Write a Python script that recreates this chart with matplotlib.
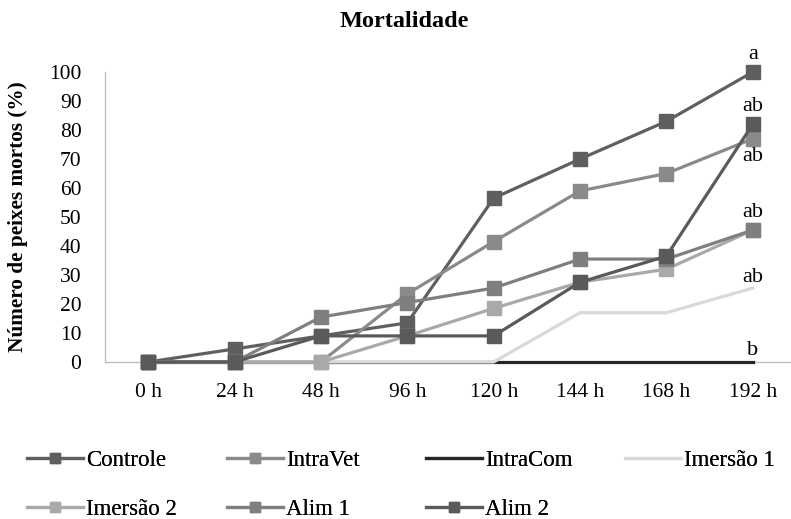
import matplotlib.pyplot as plt

plt.rcParams['font.family'] = ['Liberation Serif', 'DejaVu Serif']

horas = ['0 h', '24 h', '48 h', '96 h', '120 h', '144 h', '168 h', '192 h']

controle = [0, 4.5, 9, 13.5, 56.5, 70, 83, 100]
intravet = [0, 0, 0, 23.5, 41.5, 59, 65, 77]
intracom = [0, 0, 0, 0, 0, 0, 0, 0]
imersao1 = [0, 0, 0, 0, 0, 17, 17, 25.5]
imersao2 = [0, 0, 0, 9, 18.5, 27.5, 32, 45.5]
alim1 = [0, 0, 15.5, 20.5, 25.5, 35.5, 35.5, 45.5]
alim2 = [0, 0, 9, 9, 9, 27.5, 36.5, 82]

letras = ['a', 'ab', 'ab', 'ab', 'ab', 'b']

series = [
    ('Controle', controle, '#5f5f5f', 's'),
    ('IntraVet', intravet, '#8a8a8a', 's'),
    ('IntraCom', intracom, '#262626', None),
    ('Imersão 1', imersao1, '#d9d9d9', None),
    ('Imersão 2', imersao2, '#a9a9a9', 's'),
    ('Alim 1', alim1, '#7f7f7f', 's'),
    ('Alim 2', alim2, '#5a5a5a', 's'),
]

fig = plt.figure(figsize=(7.91, 5.19), dpi=100)
ax = fig.add_axes([105 / 791, 157 / 519, 691 / 791, 290 / 519])

x = list(range(len(horas)))
linhas = []
for nome, valores, cor, marcador in series:
    l, = ax.plot(x, valores, color=cor, linewidth=2.3, marker=marcador,
                 markersize=10, label=nome, clip_on=False, zorder=3)
    linhas.append(l)

# letras de significância ao lado do último ponto
ult = len(horas) - 1
pos_letras = [controle[-1] + 6, alim2[-1] + 6, intravet[-1] - 6.3,
              alim1[-1] + 6.2, imersao1[-1] + 3.5, intracom[-1] + 4]
for letra, yl in zip(letras, pos_letras):
    ax.text(ult, yl, letra, ha='center', va='center', fontsize=16)

ax.set_xlim(-0.5, 7.5)
ax.set_ylim(0, 100)
ax.set_yticks(range(0, 101, 10))
ax.set_xticks(x)
ax.set_xticklabels(horas)
ax.tick_params(length=0, labelsize=15.5, colors='black')
ax.tick_params(axis='x', pad=15)
ax.tick_params(axis='y', pad=17)
for lado in ['top', 'right']:
    ax.spines[lado].set_visible(False)
for lado in ['left', 'bottom']:
    ax.spines[lado].set_color('#bfbfbf')
    ax.spines[lado].set_linewidth(1)

ax.set_ylabel('Número de peixes mortos (%)', fontsize=15.3, fontweight='bold')
ax.yaxis.set_label_coords(-0.111, 0.5)
fig.text(404 / 791, 1 - 22 / 519, 'Mortalidade', ha='center', va='center',
         fontsize=17.5, fontweight='bold')

# legenda em 4 colunas de largura fixa, preenchidas por linha
colunas_x = [27, 227, 426, 625]
for c, xc in enumerate(colunas_x):
    grupo = [linhas[i] for i in (c, c + 4) if i < len(linhas)]
    leg = fig.legend(handles=grupo, loc='upper left',
                     bbox_to_anchor=(xc / 791, 1 - 450 / 519),
                     frameon=False, fontsize=16.5, handlelength=2.45,
                     handletextpad=0.12, labelspacing=1.2, borderpad=0,
                     borderaxespad=0, markerscale=0.75)
    fig.add_artist(leg)

plt.savefig('out.png', dpi=100)
plt.close()
